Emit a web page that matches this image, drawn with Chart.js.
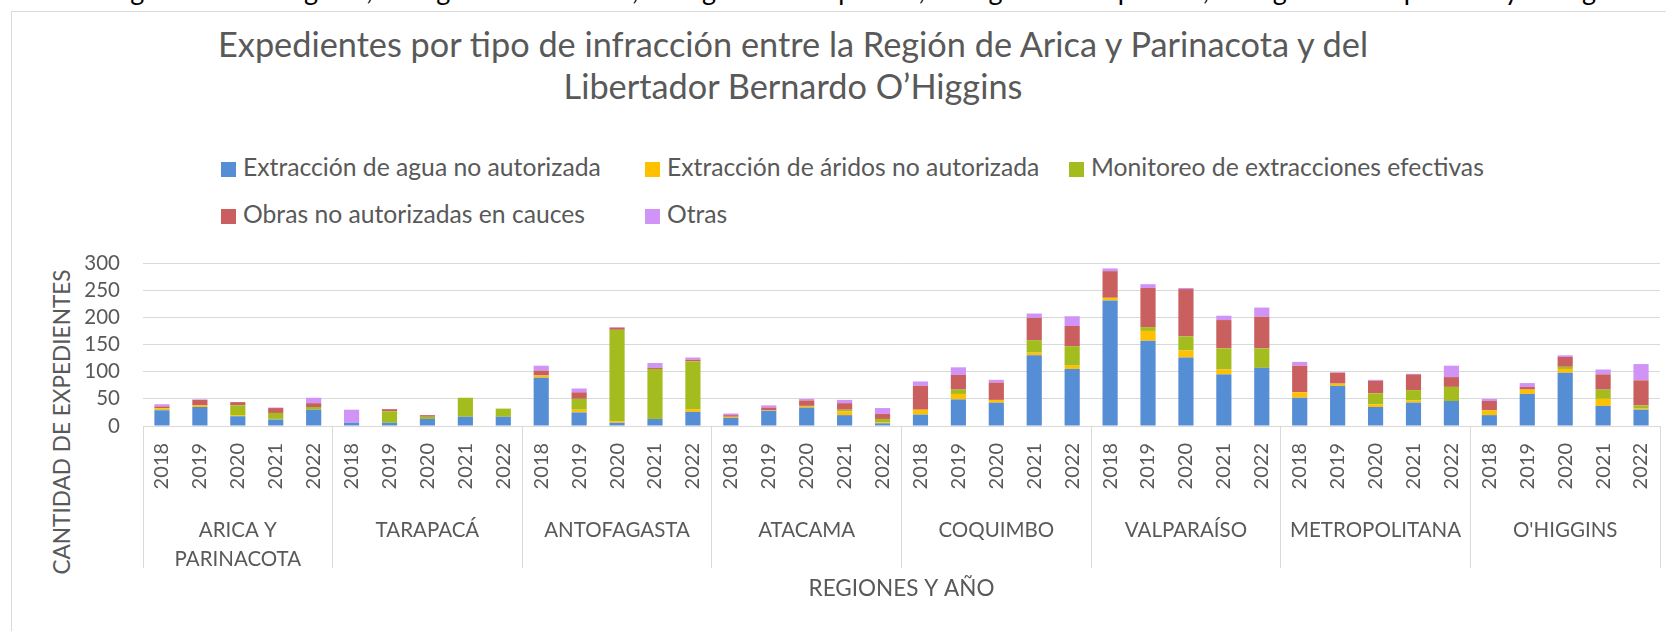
<!DOCTYPE html>
<html lang="es">
<head>
<meta charset="utf-8">
<title>Expedientes por tipo de infracción</title>
<script src="https://cdn.jsdelivr.net/npm/chart.js@4.4.1/dist/chart.umd.min.js"></script>
<style>
  html, body { margin: 0; padding: 0; background: #fff; overflow: hidden; }
  body { width: 1666px; height: 631px; position: relative; font-family: Lato, sans-serif; color: #595959; }
  #doc-line { position: absolute; left: 100px; top: -25px; font-size: 27px; line-height: 30px; color: #000; white-space: nowrap; }
  #frame { position: absolute; left: 11px; top: 11px; width: 1700px; height: 700px; border-left: 1px solid #d9d9d9; border-top: 1px solid #d9d9d9; }
  #title { position: absolute; left: 0; width: 1586px; top: 23px; text-align: center; font-size: 34.3px; line-height: 42px; }
  #legend .item { position: absolute; font-size: 24.7px; line-height: 26px; white-space: nowrap; }
  #legend .box { display: inline-block; width: 15px; height: 15px; margin-right: 7px; vertical-align: -1px; }
  #ytitle { position: absolute; left: 61px; top: 422px; transform: translate(-50%, -50%) rotate(-90deg); font-size: 22.6px; white-space: nowrap; }
  #wrap { position: absolute; left: 0; top: 0; width: 1666px; height: 631px; }
</style>
</head>
<body>
<div id="doc-line">Región de Antofagasta, la Región de Atacama, la Región de Coquimbo, la Región de Valparaíso, la Región Metropolitana y la Región</div>
<div id="frame"></div>
<div id="title">Expedientes por tipo de infracción entre la Región de Arica y Parinacota y del<br>Libertador Bernardo O’Higgins</div>
<div id="legend"></div>
<div id="ytitle">CANTIDAD DE EXPEDIENTES</div>
<div id="wrap"><canvas id="chart" width="1666" height="631"></canvas></div>

<script>
// categories
var regiones = [['ARICA Y', 'PARINACOTA'], 'TARAPACÁ', 'ANTOFAGASTA', 'ATACAMA', 'COQUIMBO', 'VALPARAÍSO', 'METROPOLITANA', "O'HIGGINS"];
var anios = ['2018', '2019', '2020', '2021', '2022'];
var yMax = 300;
var yStep = 50;

// one value per region and year (2018..2022)
var aguaNoAutorizada = [
  29, 35, 18, 12, 30,     // Arica y Parinacota
  6, 6, 13, 17, 17,       // Tarapacá
  89, 25, 6, 13, 26,      // Antofagasta
  15, 28, 34, 20, 5,      // Atacama
  21, 49, 43, 130, 105,   // Coquimbo
  231, 157, 126, 95, 107, // Valparaíso
  52, 74, 35, 43, 46,     // Metropolitana
  20, 59, 98, 37, 30      // O'Higgins
];
var aridosNoAutorizada = [
  3, 3, 2, 1, 0,
  0, 0, 0, 0, 0,
  4, 5, 3, 0, 5,
  2, 1, 3, 7, 2,
  9, 10, 5, 5, 6,
  5, 18, 13, 9, 0,
  10, 4, 5, 4, 0,
  9, 8, 7, 13, 2
];
var monitoreo = [
  1, 0, 18, 11, 5,
  0, 21, 4, 35, 15,
  0, 20, 168, 92, 88,
  0, 0, 0, 3, 6,
  0, 8, 0, 23, 36,
  0, 7, 26, 39, 36,
  0, 0, 20, 19, 26,
  0, 0, 4, 17, 6
];
var obrasCauces = [
  3, 10, 6, 9, 7,
  0, 4, 3, 0, 0,
  9, 12, 4, 2, 3,
  3, 5, 10, 12, 9,
  44, 27, 32, 41, 37,
  49, 72, 87, 52, 58,
  49, 20, 23, 29, 18,
  17, 5, 18, 28, 46
];
var otras = [
  4, 1, 0, 1, 10,
  24, 0, 0, 0, 0,
  9, 7, 1, 9, 4,
  3, 4, 3, 6, 11,
  8, 14, 5, 8, 18,
  5, 7, 2, 8, 17,
  7, 1, 2, 1, 21,
  4, 7, 3, 9, 30
];

var series = [
  { label: 'Extracción de agua no autorizada', data: aguaNoAutorizada, color: '#558ED5' },
  { label: 'Extracción de áridos no autorizada', data: aridosNoAutorizada, color: '#FFC000' },
  { label: 'Monitoreo de extracciones efectivas', data: monitoreo, color: '#A4BC1E' },
  { label: 'Obras no autorizadas en cauces', data: obrasCauces, color: '#C95F5F' },
  { label: 'Otras', data: otras, color: '#CF94F6' }
];

var textColor = '#595959';
var lineColor = '#d9d9d9';

// x labels: every year repeated for each region
var xLabels = [];
for (var r = 0; r < regiones.length; r++) {
  for (var a = 0; a < anios.length; a++) {
    xLabels.push(anios[a]);
  }
}

var datasets = series.map(function(s) {
  return {
    label: s.label,
    data: s.data,
    backgroundColor: s.color,
    borderWidth: 0,
    categoryPercentage: 0.4,
    barPercentage: 1
  };
});

// legend laid out as a grid, like the original
var legendEl = document.getElementById('legend');
series.forEach(function(s, i) {
  var col = i % 3, row = Math.floor(i / 3);
  var item = document.createElement('div');
  item.className = 'item';
  item.style.left = (221 + col * 424) + 'px';
  item.style.top = (154 + row * 47) + 'px';
  item.innerHTML = '<span class="box" style="background:' + s.color + '"></span>' + s.label;
  legendEl.appendChild(item);
});

var ctx = document.getElementById('chart');
var chart = new Chart(ctx, {
  type: 'bar',
  data: { labels: xLabels, datasets: datasets },
  options: {
    responsive: false,
    animation: false,
    layout: { padding: { left: 12, right: 6, top: 263, bottom: 0 } },
    plugins: {
      legend: { display: false },
      title: { display: false },
      tooltip: { enabled: false }
    },
    scales: {
      x: {
        stacked: true,
        offset: true,
        grid: {
          offset: true,
          drawOnChartArea: false,
          tickLength: 142,
          lineWidth: 1,
          // only the group separators are visible
          color: function(c) {
            if (c.type === 'tick' && c.index % anios.length !== 0) return 'rgba(0,0,0,0)';
            return lineColor;
          }
        },
        border: { display: true, color: lineColor, width: 1 },
        ticks: {
          autoSkip: false,
          minRotation: 90,
          maxRotation: 90,
          padding: -125,
          color: textColor,
          font: { family: 'Lato', size: 20 }
        },
        afterFit: function(scale) { scale.height = 64; }
      },
      x2: {
        type: 'category',
        labels: regiones,
        position: 'bottom',
        offset: true,
        grid: { display: false },
        border: { display: false },
        ticks: {
          autoSkip: false,
          maxRotation: 0,
          padding: 18,
          color: textColor,
          font: { family: 'Lato', size: 20.5, lineHeight: 1.4 }
        },
        title: {
          display: true,
          text: 'REGIONES Y AÑO',
          color: textColor,
          font: { family: 'Lato', size: 22.5 },
          padding: { top: 0, bottom: 29 }
        },
        afterFit: function(scale) { scale.height = 141; }
      },
      y: {
        stacked: true,
        min: 0,
        max: yMax,
        grid: { color: lineColor, drawTicks: false, lineWidth: 1 },
        border: { display: false },
        ticks: {
          stepSize: yStep,
          autoSkip: false,
          padding: 23,
          color: textColor,
          font: { family: 'Lato', size: 20.5 }
        },
        afterFit: function(scale) { scale.width = 131; }
      }
    }
  }
});
</script>
</body>
</html>
